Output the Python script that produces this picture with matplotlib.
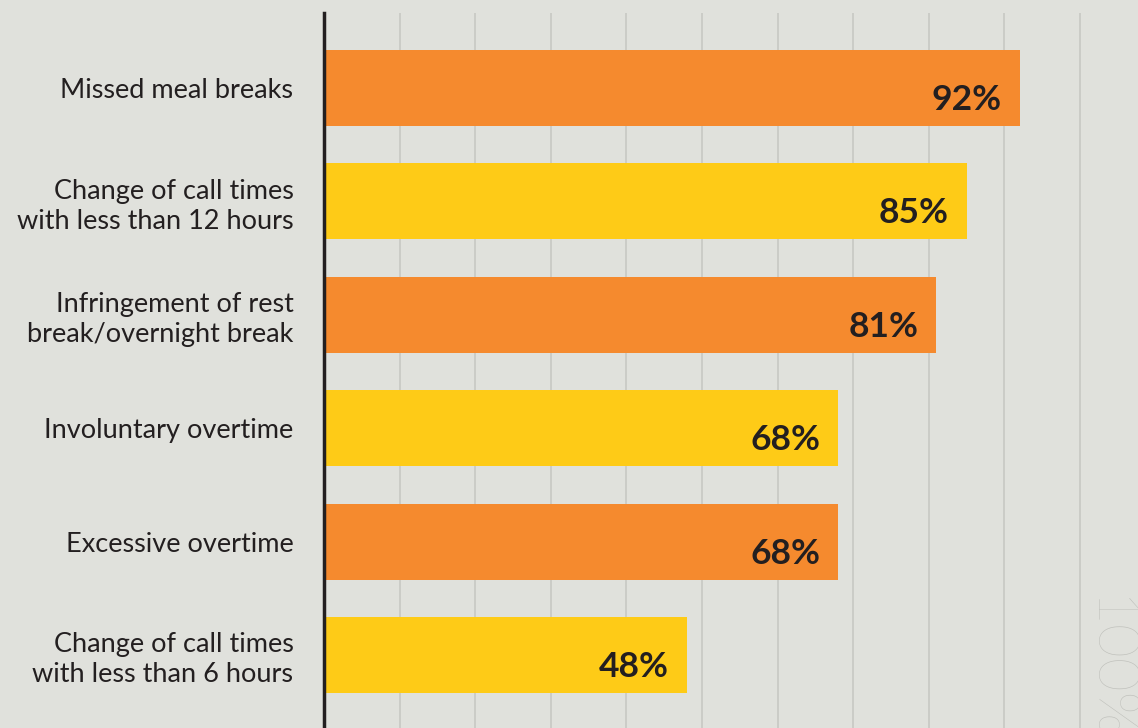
import matplotlib.pyplot as plt

categories = [
    "Missed meal breaks",
    "Change of call times\nwith less than 12 hours",
    "Infringement of rest\nbreak/overnight break",
    "Involuntary overtime",
    "Excessive overtime",
    "Change of call times\nwith less than 6 hours",
]
values = [92, 85, 81, 68, 68, 48]

ORANGE = "#F58A2E"
YELLOW = "#FECB17"
BG = "#E0E1DC"
GRID = "#C9CAC5"
TEXT = "#231F20"

plt.rcParams["font.family"] = ["Lato", "DejaVu Sans"]

fig = plt.figure(figsize=(11.38, 7.28), dpi=100, facecolor=BG)
# axes spans from the zero line to the right edge of the figure
ax = fig.add_axes([324 / 1138, 0, 1 - 324 / 1138, 1 - 13 / 728])
ax.set_facecolor(BG)

y = list(range(len(categories)))
colors = [ORANGE if i % 2 == 0 else YELLOW for i in y]
ax.barh(y, values, height=0.67, color=colors, zorder=2)

ax.set_xlim(0, (1138 - 324) / 7.56)
ax.set_ylim(5.644, -0.661)

for gx in range(10, 101, 10):
    ax.axvline(gx, color=GRID, lw=1.3, zorder=1)

for i, v in enumerate(values):
    ax.annotate(f"{v}%", (v, i), xytext=(-18, -12), textcoords="offset pixels",
                ha="right", va="center", fontsize=25.5, fontweight="bold",
                color=TEXT, zorder=3)

ax.set_yticks(y)
ax.set_yticklabels(categories, fontsize=19.5, color=TEXT, linespacing=1.25)
ax.tick_params(axis="y", length=0, pad=22)
ax.set_xticks([])

for s in ["top", "right", "bottom"]:
    ax.spines[s].set_visible(False)
ax.spines["left"].set_color(TEXT)
ax.spines["left"].set_linewidth(2.5)
ax.spines["left"].set_zorder(4)

# large scale marker beside the 100% gridline, running off the bottom edge
ax.text(100 + 27 / 7.56, 4.48, "100%", rotation=-90, ha="center", va="top",
        fontsize=42, fontweight="light", color="#BFC0BB", clip_on=False)

fig.savefig("out.png", dpi=100, facecolor=BG)
